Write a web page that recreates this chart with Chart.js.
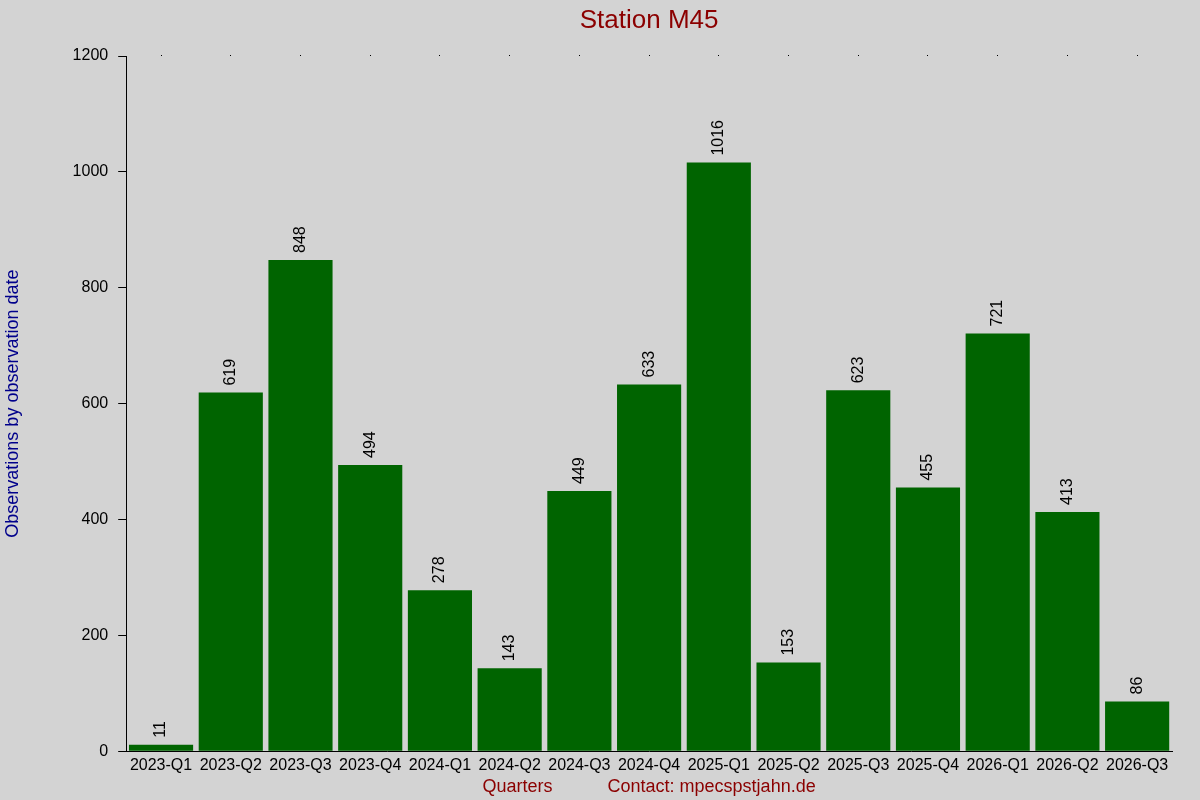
<!DOCTYPE html>
<html>
<head>
<meta charset="utf-8">
<script src="https://cdn.jsdelivr.net/npm/chart.js@4/dist/chart.umd.min.js"></script>
<style>
html,body{margin:0;padding:0;background:#d3d3d3;}
#wrap{width:1200px;height:800px;}
</style>
</head>
<body>
<div id="wrap"><canvas id="c" width="1200" height="800"></canvas></div>
<script>
const categories = ["2023-Q1","2023-Q2","2023-Q3","2023-Q4","2024-Q1","2024-Q2","2024-Q3","2024-Q4","2025-Q1","2025-Q2","2025-Q3","2025-Q4","2026-Q1","2026-Q2","2026-Q3"];
const observations = [11,619,848,494,278,143,449,633,1016,153,623,455,721,413,86];
const yTicks = [0,200,400,600,800,1000,1200];
const chartTitle = 'Station M45';

const FONT = "'Liberation Sans', Arial, sans-serif";

const bgPlugin = {
  id: 'bg',
  beforeDraw(chart) {
    const ctx = chart.ctx;
    ctx.save();
    ctx.fillStyle = '#d3d3d3';
    ctx.fillRect(0, 0, chart.width, chart.height);
    ctx.restore();
  }
};

const titlePlugin = {
  id: 'ctitle',
  afterDraw(chart) {
    const ctx = chart.ctx;
    const a = chart.chartArea;
    ctx.save();
    ctx.font = '26px ' + FONT;
    ctx.fillStyle = '#8b0000';
    ctx.textAlign = 'center';
    ctx.textBaseline = 'alphabetic';
    ctx.fillText(chartTitle, (a.left + a.right) / 2, 28);
    ctx.restore();
  }
};

const labelPlugin = {
  id: 'vlabels',
  afterDatasetsDraw(chart) {
    const ctx = chart.ctx;
    const meta = chart.getDatasetMeta(0);
    ctx.save();
    ctx.font = '16px ' + FONT;
    ctx.fillStyle = '#000';
    ctx.textAlign = 'left';
    ctx.textBaseline = 'middle';
    meta.data.forEach((bar, i) => {
      ctx.save();
      ctx.translate(bar.x, bar.y - 7);
      ctx.rotate(-Math.PI / 2);
      ctx.fillText(String(observations[i]), 0, 0);
      ctx.restore();
    });
    ctx.restore();
  }
};

new Chart(document.getElementById('c'), {
  type: 'bar',
  data: {
    labels: categories,
    datasets: [{
      data: observations,
      backgroundColor: '#006400',
      borderWidth: 0,
      barPercentage: 0.92,
      categoryPercentage: 1.0,
      xAxisID: 'x',
      yAxisID: 'y'
    }]
  },
  options: {
    responsive: false,
    animation: false,
    devicePixelRatio: 1,
    layout: { padding: { left: 2, right: 28, top: 55, bottom: 0 } },
    plugins: {
      legend: { display: false },
      tooltip: { enabled: false },
      title: { display: false }
    },
    scales: {
      x: {
        type: 'category',
        position: 'bottom',
        offset: true,
        grid: { display: false },
        border: { display: true, color: '#000', width: 1 },
        ticks: { color: '#000', font: { family: FONT, size: 16 }, padding: -3, maxRotation: 0, autoSkip: false },
        title: {
          display: true,
          text: 'Quarters           Contact: mpecspstjahn.de',
          color: '#8b0000',
          font: { family: FONT, size: 18 },
          padding: { top: 4, bottom: 2 }
        }
      },
      x2: {
        type: 'category',
        position: 'top',
        offset: true,
        labels: categories,
        grid: { display: true, drawOnChartArea: false, offset: false, color: '#000', lineWidth: 1, tickLength: 1 },
        border: { display: false },
        ticks: { display: false }
      },
      y: {
        min: 0,
        max: 1200,
        afterBuildTicks(axis) { axis.ticks = yTicks.map(v => ({ value: v })); },
        grid: { display: true, drawOnChartArea: false, color: '#000', tickLength: 8 },
        border: { display: true, color: '#000', width: 1 },
        ticks: { color: '#000', font: { family: FONT, size: 16 }, padding: 10, callback: (v) => String(v) },
        title: {
          display: true,
          text: 'Observations by observation date',
          color: '#00008b',
          font: { family: FONT, size: 18 },
          padding: { top: 0, bottom: 39 }
        }
      }
    }
  },
  plugins: [bgPlugin, labelPlugin, titlePlugin]
});
</script>
</body>
</html>
